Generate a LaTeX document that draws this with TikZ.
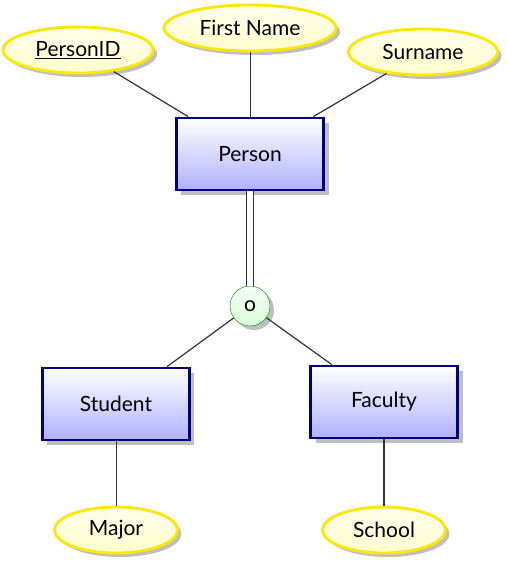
\documentclass[tikz,border=0pt]{standalone}
\usepackage{fontspec}
\setmainfont{Lato}
\usetikzlibrary{shapes.geometric,shadows,positioning}

\definecolor{navy}{RGB}{0,0,128}
\definecolor{attrfill}{RGB}{255,255,205}
\definecolor{attrline}{RGB}{255,232,0}
\definecolor{entfill}{RGB}{176,176,255}

\tikzstyle{entity} = [rectangle, minimum width=147pt, minimum height=72pt, text centered, draw=navy, line width=2.8pt, top color=white, bottom color=entfill, drop shadow={shadow xshift=5pt, shadow yshift=-5pt, fill=black!25, opacity=1}, font=\fontsize{21}{24}\selectfont]
\tikzstyle{attrib} = [ellipse, minimum width=123pt, minimum height=46pt, text centered, draw=attrline, line width=2.8pt, top color=white!60!attrfill, bottom color=attrfill, drop shadow={shadow xshift=4pt, shadow yshift=-4pt, fill=black!25, opacity=1}, font=\fontsize{21}{24}\selectfont]
\tikzstyle{isa} = [circle, minimum size=40pt, inner sep=0pt, draw=green!55!black, top color=white!60!green!10, bottom color=green!15, drop shadow={shadow xshift=4pt, shadow yshift=-4pt, fill=black!25, opacity=1}, font=\fontsize{21}{24}\selectfont]
\tikzstyle{link} = [line width=1.2pt, draw=black!80]
\tikzstyle{thinlink} = [line width=0.7pt, draw=black!80]

\begin{document}
\begin{tikzpicture}[x=1pt, y=1pt]
		\useasboundingbox (-250,154) rectangle (256,-413);
		\node (person) [entity] {Person};
		\node (firstname) [attrib, minimum width=172pt, above of=person, node distance=126pt] {First Name};
		\node (personid) [attrib, minimum width=150pt, above of=person, node distance=104pt, xshift=-172pt] {\underline{PersonID}};
		\node (surname) [attrib, minimum width=149pt, above of=person, node distance=102pt, xshift=173pt] {Surname};
		
		\node (disjoint) [isa, below of=person, node distance=152pt] {o};
		\node (student) [entity, below of=disjoint, node distance=98pt, xshift=-134pt] {Student};
		\node (faculty) [entity, below of=disjoint, node distance=96pt, xshift=134pt] {Faculty};
		\node (major) [attrib, below of=student, node distance=126pt] {Major};
		\node (school) [attrib, below of=faculty, node distance=128pt] {School};
		
		\draw [link] (personid) -- (person);
		\draw [thinlink] (firstname) -- (person);
		\draw [link] (surname) -- (person);
		\draw [line width=1.2pt, draw=black!80, double=white, double distance=6pt] (person) -- (disjoint);
		\draw [link] (disjoint) -- (student);
		\draw [link] (disjoint) -- (faculty);
		\draw [thinlink] (student) -- (major);
		\draw [link] (faculty) -- (school);
	
	\end{tikzpicture}
\end{document}
